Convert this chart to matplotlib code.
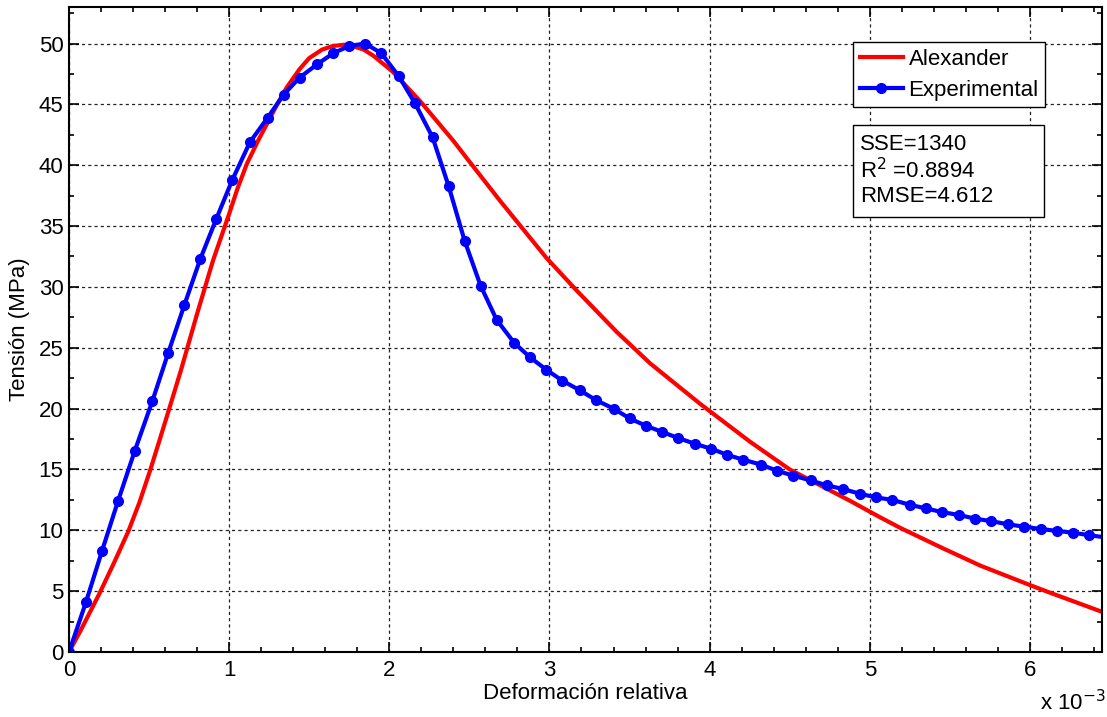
import matplotlib
matplotlib.use("Agg")
import matplotlib.pyplot as plt
from matplotlib.ticker import MultipleLocator, FuncFormatter
from matplotlib.patches import Rectangle

plt.rcParams['font.family'] = ['Liberation Sans', 'DejaVu Sans']

# deformacion en unidades de 1e-3
def_alex = [0, 0.07, 0.19, 0.28, 0.37, 0.44, 0.506, 0.57, 0.64, 0.70, 0.80, 0.90,
            1.0, 1.05, 1.11, 1.18, 1.24, 1.30, 1.36, 1.44, 1.5, 1.58, 1.65, 1.72,
            1.77, 1.84, 1.9, 2.02, 2.19, 2.4, 2.5, 2.69, 2.98, 3.17, 3.42, 3.63,
            3.94, 4.0, 4.25, 4.50, 4.88, 5.06, 5.19, 5.46, 5.69, 6.0, 6.12, 6.45]
ten_alex = [0, 1.7, 4.8, 7.3, 9.9, 12.3, 14.9, 17.6, 20.6, 23.2, 27.8, 32.2,
            36.0, 38.0, 40.1, 42.0, 43.5, 45.0, 46.4, 47.9, 48.8, 49.5, 49.8, 49.9,
            49.8, 49.5, 49.0, 47.7, 45.3, 42.0, 40.3, 37.1, 32.4, 29.7, 26.3, 23.7,
            20.4, 19.8, 17.3, 15.0, 12.4, 11.1, 10.2, 8.5, 7.1, 5.5, 4.9, 3.3]

def_exp = [0, 0.106, 0.206, 0.306, 0.41, 0.52, 0.62, 0.72, 0.82, 0.92, 1.02, 1.13,
           1.24, 1.34, 1.44, 1.55, 1.65, 1.75, 1.85, 1.95, 2.06, 2.16, 2.27, 2.37,
           2.47, 2.57, 2.67, 2.78, 2.88, 2.98, 3.08, 3.19, 3.29, 3.40, 3.50, 3.60,
           3.70, 3.80, 3.91, 4.01, 4.11, 4.21, 4.32, 4.42, 4.52, 4.63, 4.73, 4.83,
           4.94, 5.04, 5.14, 5.25, 5.35, 5.45, 5.56, 5.66, 5.76, 5.86, 5.96, 6.07,
           6.17, 6.27, 6.37, 6.48]
ten_exp = [0, 4.1, 8.3, 12.4, 16.5, 20.6, 24.6, 28.5, 32.3, 35.6, 38.8, 41.9,
           43.9, 45.8, 47.2, 48.3, 49.2, 49.8, 50.0, 49.2, 47.3, 45.1, 42.3, 38.3,
           33.8, 30.1, 27.3, 25.4, 24.2, 23.2, 22.3, 21.5, 20.7, 20.0, 19.2, 18.6,
           18.1, 17.6, 17.1, 16.7, 16.2, 15.8, 15.4, 14.9, 14.5, 14.1, 13.7, 13.4,
           13.0, 12.7, 12.5, 12.1, 11.8, 11.5, 11.25, 10.95, 10.75, 10.5, 10.3, 10.1,
           9.95, 9.8, 9.6, 9.4]

stats = ["SSE=1340", "R$^2$ =0.8894", "RMSE=4.612"]

W, H = 1107, 717
fs = 16
fig = plt.figure(figsize=(W / 100, H / 100), dpi=100)
ax = fig.add_axes([69 / W, 1 - 652 / H, (1102 - 69) / W, (652 - 7) / H])

ax.plot([d * 1e-3 for d in def_alex], ten_alex, color='#ff0000', lw=3, label='Alexander')
ax.plot([d * 1e-3 for d in def_exp], ten_exp, color='#0000ff', lw=3, marker='o',
        markersize=7, label='Experimental')

ax.set_xlim(0, 6.45e-3)
ax.set_ylim(0, 53)
ax.xaxis.set_major_locator(MultipleLocator(1e-3))
ax.xaxis.set_minor_locator(MultipleLocator(0.2e-3))
ax.yaxis.set_major_locator(MultipleLocator(5))
ax.yaxis.set_minor_locator(MultipleLocator(2.5))
ax.xaxis.set_major_formatter(FuncFormatter(lambda v, p: '%g' % round(v * 1e3, 6)))

ax.tick_params(which='both', direction='in', top=True, right=True, labelsize=fs,
               width=1.2, colors='black')
ax.tick_params(axis='y', which='major', length=7, pad=4)
ax.tick_params(axis='x', which='major', length=7, pad=6)
ax.tick_params(which='minor', length=3.5)
for s in ax.spines.values():
    s.set_linewidth(1.5)

ax.grid(True, which='major', color='#222222', linestyle=(0, (2.5, 2.5)), linewidth=0.9)

ax.set_xlabel('Deformación relativa', fontsize=fs, labelpad=1)
ax.set_ylabel('Tensión (MPa)', fontsize=fs, labelpad=6)

fig.text(1040 / W, 1 - 703 / H, r'x 10$^{-3}$', fontsize=fs, va='center', ha='left')

leg = ax.legend(loc='upper left', bbox_to_anchor=(853 / W, 1 - 42 / H),
                bbox_transform=fig.transFigure, fontsize=fs, fancybox=False,
                edgecolor='black', framealpha=1, handlelength=1.95, handletextpad=0.25,
                borderpad=0.3, labelspacing=0.45, borderaxespad=0)
leg.get_frame().set_linewidth(1.0)

fig.patches.append(Rectangle((853 / W, 1 - 217 / H), (1044 - 853) / W, (217 - 125) / H,
                             transform=fig.transFigure, facecolor='white',
                             edgecolor='black', lw=1.0, zorder=5))
for i, s in enumerate(stats):
    fig.text(860 / W, 1 - (145 + i * 26) / H, s, fontsize=fs, va='center', ha='left',
             zorder=6)

fig.savefig('out.png', dpi=100)
